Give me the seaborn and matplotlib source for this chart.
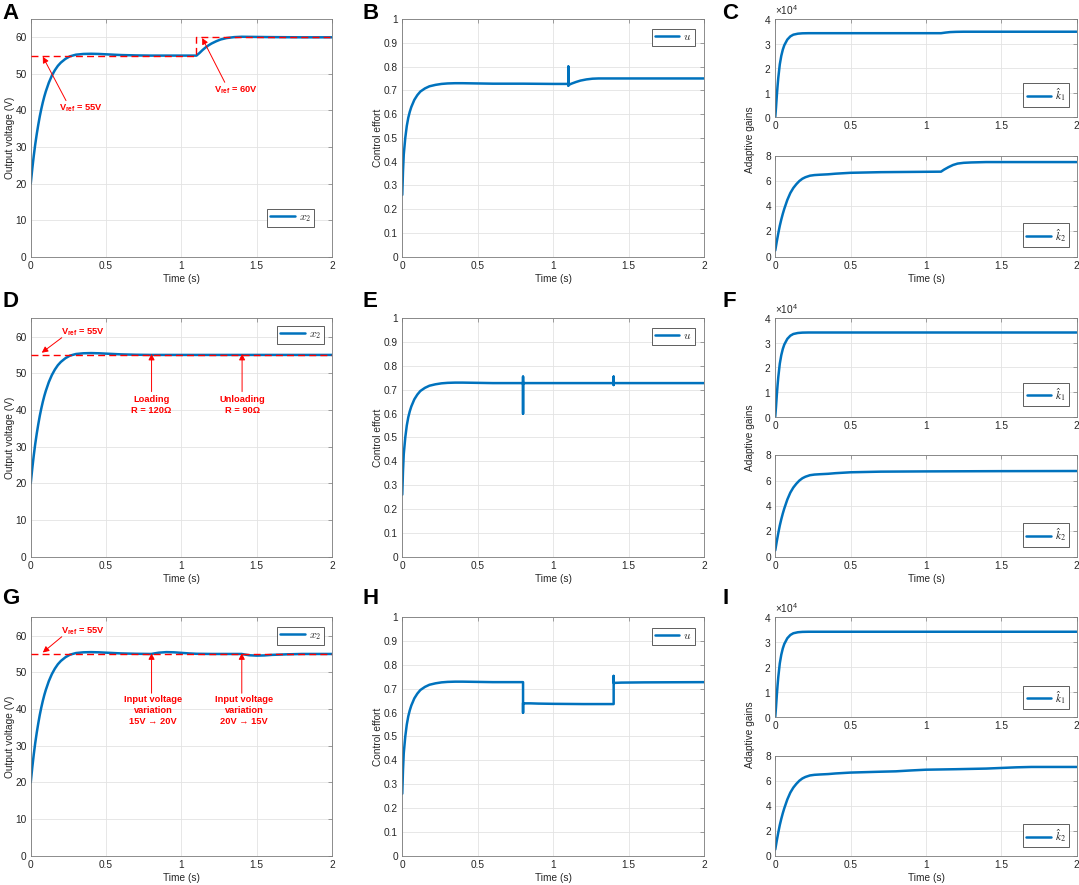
import numpy as np
import pandas as pd
import matplotlib
matplotlib.use('Agg')
import matplotlib.pyplot as plt
import seaborn as sns
from matplotlib.ticker import FormatStrFormatter, MultipleLocator, ScalarFormatter
from matplotlib.font_manager import FontProperties

# ---------------- data ----------------
# output voltage x2, common start-up
t_x2_start = [0, 0.005, 0.01, 0.02, 0.03, 0.04, 0.05, 0.06, 0.07, 0.08, 0.09, 0.10, 0.12, 0.14,
              0.16, 0.18, 0.20, 0.23, 0.26, 0.30, 0.35, 0.40, 0.45, 0.50, 0.60, 0.70, 0.80]
x2_start = [20, 22.0, 24.0, 27.6, 30.8, 33.6, 36.1, 38.4, 40.4, 42.2, 43.8, 45.2, 47.6, 49.5,
            51.0, 52.2, 53.1, 54.1, 54.8, 55.25, 55.45, 55.5, 55.45, 55.35, 55.15, 55.05, 55.0]
t_x2_A_end = [1.0, 1.1, 1.12, 1.14, 1.16, 1.18, 1.20, 1.23, 1.26, 1.30, 1.35, 1.40, 1.50, 1.60, 1.80, 2.0]
x2_A_end = [55.0, 55.0, 55.7, 56.5, 57.2, 57.8, 58.3, 58.9, 59.4, 59.8, 60.05, 60.15, 60.1, 60.05, 60.0, 60.0]
t_x2_D_end = [1.0, 1.4, 1.6, 2.0]
x2_D_end = [55.0, 55.0, 55.0, 55.0]
t_x2_G_end = [0.82, 0.85, 0.9, 0.95, 1.0, 1.05, 1.1, 1.2, 1.3, 1.4, 1.42, 1.45, 1.5, 1.55, 1.6, 1.7, 1.8, 2.0]
x2_G_end = [55.15, 55.35, 55.5, 55.45, 55.3, 55.15, 55.05, 55.0, 55.0, 55.0, 54.85, 54.65, 54.55, 54.6,
            54.75, 54.9, 55.0, 55.0]

# reference voltages
t_ref_A = [0, 1.1, 1.1, 2.0]
v_ref_A = [55, 55, 60, 60]
t_ref_DG = [0, 2.0]
v_ref_DG = [55, 55]

# control effort u, common start-up
t_u_start = [0, 0.005, 0.01, 0.02, 0.03, 0.04, 0.05, 0.06, 0.08, 0.10, 0.12, 0.15, 0.18, 0.22,
             0.26, 0.30, 0.35, 0.40, 0.50, 0.60, 0.80]
u_start = [0.26, 0.36, 0.43, 0.50, 0.55, 0.585, 0.61, 0.63, 0.66, 0.68, 0.695, 0.708, 0.717, 0.723,
           0.727, 0.729, 0.730, 0.730, 0.729, 0.728, 0.728]
t_u_B_end = [1.0, 1.1, 1.1, 1.1, 1.1, 1.12, 1.15, 1.18, 1.22, 1.26, 1.30, 1.4, 1.6, 2.0]
u_B_end = [0.727, 0.727, 0.80, 0.72, 0.722, 0.728, 0.735, 0.741, 0.746, 0.749, 0.750, 0.750, 0.750, 0.750]
t_u_E_end = [0.8, 0.8, 0.8, 0.8, 0.81, 1.4, 1.4, 1.4, 1.4, 1.41, 2.0]
u_E_end = [0.728, 0.755, 0.60, 0.728, 0.728, 0.728, 0.755, 0.72, 0.728, 0.728, 0.728]
t_u_H_end = [0.8, 0.8, 0.8, 0.81, 0.85, 0.9, 1.0, 1.2, 1.4, 1.4, 1.4, 1.41, 1.45, 1.6, 2.0]
u_H_end = [0.728, 0.60, 0.64, 0.639, 0.639, 0.638, 0.637, 0.636, 0.636, 0.754, 0.725, 0.725, 0.726,
           0.727, 0.728]

# adaptive gain k1, common start-up
t_k1_start = [0, 0.005, 0.01, 0.015, 0.02, 0.03, 0.04, 0.05, 0.06, 0.08, 0.10, 0.12, 0.15, 0.18,
              0.22, 0.30, 0.50, 1.0, 1.1]
k1_start = [0, 4000, 8500, 12500, 16000, 21500, 25000, 27500, 29300, 31600, 32900, 33600, 34000,
            34150, 34200, 34200, 34200, 34200, 34200]
t_k1_C_end = [1.13, 1.16, 1.2, 1.25, 1.3, 2.0]
k1_C_end = [34450, 34650, 34750, 34800, 34800, 34800]
t_k1_FI_end = [1.5, 2.0]
k1_FI_end = [34200, 34200]

# adaptive gain k2, common start-up
t_k2_start = [0, 0.01, 0.02, 0.03, 0.04, 0.05, 0.06, 0.08, 0.10, 0.12, 0.14, 0.16, 0.18, 0.20,
              0.23, 0.26, 0.30, 0.35, 0.40, 0.50]
k2_start = [0.5, 1.2, 1.85, 2.45, 2.95, 3.4, 3.8, 4.5, 5.05, 5.45, 5.75, 6.0, 6.18, 6.3,
            6.42, 6.47, 6.5, 6.53, 6.58, 6.65]
t_k2_C_end = [0.7, 0.9, 1.1, 1.12, 1.15, 1.18, 1.21, 1.25, 1.3, 1.4, 1.6, 2.0]
k2_C_end = [6.7, 6.72, 6.74, 6.9, 7.1, 7.27, 7.38, 7.44, 7.47, 7.5, 7.5, 7.5]
t_k2_F_end = [0.7, 1.0, 1.5, 2.0]
k2_F_end = [6.7, 6.72, 6.74, 6.75]
t_k2_I_end = [0.7, 0.8, 0.9, 1.0, 1.2, 1.4, 1.5, 1.6, 1.7, 2.0]
k2_I_end = [6.72, 6.75, 6.82, 6.88, 6.92, 6.97, 7.02, 7.07, 7.1, 7.1]

x_ticks = [0, 0.5, 1, 1.5, 2]

# ---------------- style ----------------
sns.set_theme(style='white')
plt.rcParams['font.family'] = ['Liberation Sans', 'DejaVu Sans']
plt.rcParams.update({
    'mathtext.fontset': 'custom',
    'mathtext.rm': 'Liberation Sans',
    'mathtext.bf': 'Liberation Sans:bold',
    'mathtext.it': 'Liberation Sans:italic',
    'mathtext.sf': 'Liberation Sans',
})

BLUE = '#0072BD'
RED = '#FF0000'
TXT = '#262626'
SPINE = '#7a7a7a'
FS = 7.3
LW = 1.8

fig = plt.figure(figsize=(10.79, 8.85), dpi=100)

col_left = [0.0285, 0.3728, 0.7185]
col_w = [0.2792, 0.2799, 0.2793]
row_bottom = [0.7099, 0.3710, 0.0331]
row_h = [0.2686, 0.2694, 0.2694]
sub_axes = [
    ((0.8675, 0.1111), (0.7099, 0.1141)),
    ((0.5293, 0.1111), (0.3710, 0.1147)),
    ((0.1898, 0.1127), (0.0331, 0.1130)),
]


def style(ax, ylim, ystep, xlabel=True):
    ax.set_xlim(0, 2)
    ax.set_ylim(*ylim)
    ax.set_xticks(x_ticks)
    ax.yaxis.set_major_locator(MultipleLocator(ystep))
    ax.xaxis.set_major_formatter(FormatStrFormatter('%g'))
    ax.yaxis.set_major_formatter(FormatStrFormatter('%g'))
    ax.grid(True, color='#e3e3e3', lw=0.6)
    ax.set_axisbelow(True)
    for s in ax.spines.values():
        s.set_color(SPINE)
        s.set_linewidth(0.6)
        s.set_visible(True)
    ax.tick_params(direction='in', length=3, width=0.5, color=SPINE, labelcolor=TXT,
                   labelsize=FS, top=True, right=True, pad=3)
    ax.set_ylabel('')
    ax.set_xlabel('Time (s)' if xlabel else '', fontsize=FS, color=TXT, labelpad=2)


def legend(ax, label, loc, anchor, mathfont='cm'):
    h = ax.get_lines()[0]
    ax.legend([h], [label], loc=loc, bbox_to_anchor=anchor,
              prop=FontProperties(size=8.2, math_fontfamily=mathfont),
              fancybox=False, framealpha=1, edgecolor='#444444', handlelength=2.15,
              handletextpad=0.35, borderpad=0.28, borderaxespad=0)
    ax.get_legend().get_frame().set_linewidth(0.6)


def line(ax, t, v, label=None):
    sns.lineplot(x=t, y=v, ax=ax, color=BLUE, lw=LW, estimator=None, sort=False,
                 label=label, legend=False)


def ref(ax, t, v):
    sns.lineplot(x=t, y=v, ax=ax, color=RED, lw=1.0, linestyle=(0, (5, 3)),
                 estimator=None, sort=False, legend=False, zorder=5)


def arrow(ax, tail, head):
    ax.annotate('', xy=head, xytext=tail,
                arrowprops=dict(arrowstyle='-|>', color=RED, lw=0.7, mutation_scale=9,
                                shrinkA=0, shrinkB=0), zorder=6)


def rtext(ax, x, y, s):
    ax.text(x, y, s, color=RED, fontsize=6.7, fontweight='bold', ha='center', va='center',
            linespacing=1.3, zorder=6)


VREF55 = r'$\mathbf{V}_{\mathbf{ref}}$ = 55V'
VREF60 = r'$\mathbf{V}_{\mathbf{ref}}$ = 60V'

x2_series = [
    (t_x2_start + t_x2_A_end, x2_start + x2_A_end),
    (t_x2_start + t_x2_D_end, x2_start + x2_D_end),
    (t_x2_start + t_x2_G_end, x2_start + x2_G_end),
]
u_series = [
    (t_u_start + t_u_B_end, u_start + u_B_end),
    (t_u_start + t_u_E_end, u_start + u_E_end),
    (t_u_start + t_u_H_end, u_start + u_H_end),
]
k1_series = [
    (t_k1_start + t_k1_C_end, k1_start + k1_C_end),
    (t_k1_start + t_k1_FI_end, k1_start + k1_FI_end),
    (t_k1_start + t_k1_FI_end, k1_start + k1_FI_end),
]
k2_series = [
    (t_k2_start + t_k2_C_end, k2_start + k2_C_end),
    (t_k2_start + t_k2_F_end, k2_start + k2_F_end),
    (t_k2_start + t_k2_I_end, k2_start + k2_I_end),
]

labels = [['A', 'B', 'C'], ['D', 'E', 'F'], ['G', 'H', 'I']]
label_y = [3, 291, 588]
label_x = [2, 362, 722]
gains_label_y = [140, 438, 735]

for r in range(3):
    # ----- column 1: output voltage -----
    ax = fig.add_axes([col_left[0], row_bottom[r], col_w[0], row_h[r]])
    t, v = x2_series[r]
    line(ax, t, v, r'$x_2$')
    if r == 0:
        ref(ax, t_ref_A, v_ref_A)
    else:
        ref(ax, t_ref_DG, v_ref_DG)
    style(ax, (0, 65), 10)
    ax.set_ylabel('Output voltage (V)', fontsize=FS, color=TXT, labelpad=0.5)
    if r == 0:
        legend(ax, r'$x_2$', 'lower right', (0.94, 0.125))
        arrow(ax, (0.234, 42.7), (0.08, 54.7))
        rtext(ax, 0.331, 40.7, VREF55)
        arrow(ax, (1.288, 47.7), (1.138, 59.8))
        rtext(ax, 1.359, 45.5, VREF60)
    elif r == 1:
        legend(ax, r'$x_2$', 'upper right', (0.973, 0.968))
        arrow(ax, (0.206, 59.7), (0.073, 55.6))
        rtext(ax, 0.349, 61.1, VREF55)
        arrow(ax, (0.802, 45.0), (0.802, 55.3))
        rtext(ax, 0.802, 41.4, 'Loading\nR = 120Ω')
        arrow(ax, (1.403, 45.0), (1.403, 55.3))
        rtext(ax, 1.405, 41.4, 'Unloading\nR = 90Ω')
    else:
        legend(ax, r'$x_2$', 'upper right', (0.973, 0.961))
        arrow(ax, (0.206, 59.7), (0.08, 55.4))
        rtext(ax, 0.349, 61.1, VREF55)
        arrow(ax, (0.802, 44.3), (0.802, 55.2))
        rtext(ax, 0.813, 39.5, 'Input voltage\nvariation\n15V → 20V')
        arrow(ax, (1.401, 44.3), (1.401, 55.2))
        rtext(ax, 1.417, 39.5, 'Input voltage\nvariation\n20V → 15V')

    # ----- column 2: control effort -----
    ax = fig.add_axes([col_left[1], row_bottom[r], col_w[1], row_h[r]])
    t, v = u_series[r]
    line(ax, t, v, r'$u$')
    style(ax, (0, 1), 0.1)
    ax.set_ylabel('Control effort', fontsize=FS, color=TXT, labelpad=0.5)
    legend(ax, r'$u$', 'upper right', (0.969, [0.957, 0.958, 0.954][r]))

    # ----- column 3: adaptive gains -----
    (b1, h1), (b2, h2) = sub_axes[r]
    ax1 = fig.add_axes([col_left[2], b1, col_w[2], h1])
    t, v = k1_series[r]
    line(ax1, t, v, r'$\hat{k}_1$')
    style(ax1, (0, 40000), 10000, xlabel=False)
    fmt = ScalarFormatter(useMathText=True)
    fmt.set_powerlimits((0, 0))
    ax1.yaxis.set_major_formatter(fmt)
    ax1.yaxis.get_offset_text().set_fontsize(FS)
    ax1.yaxis.get_offset_text().set_color(TXT)
    legend(ax1, r'$\hat{k}_1$', 'lower right', (0.974, [0.108, 0.108, 0.08][r]), 'stix')

    ax2 = fig.add_axes([col_left[2], b2, col_w[2], h2])
    t, v = k2_series[r]
    line(ax2, t, v, r'$\hat{k}_2$')
    style(ax2, (0, 8), 2)
    legend(ax2, r'$\hat{k}_2$', 'lower right', (0.974, [0.099, 0.099, 0.084][r]), 'stix')

    fig.text(750 / 1079, 1 - gains_label_y[r] / 885, 'Adaptive gains', rotation=90,
             ha='center', va='center', fontsize=FS, color=TXT)

    for c in range(3):
        fig.text(label_x[c] / 1079, 1 - label_y[r] / 885, labels[r][c], fontsize=16,
                 fontweight='bold', ha='left', va='top', color='black')

fig.savefig('out.png', dpi=100)
